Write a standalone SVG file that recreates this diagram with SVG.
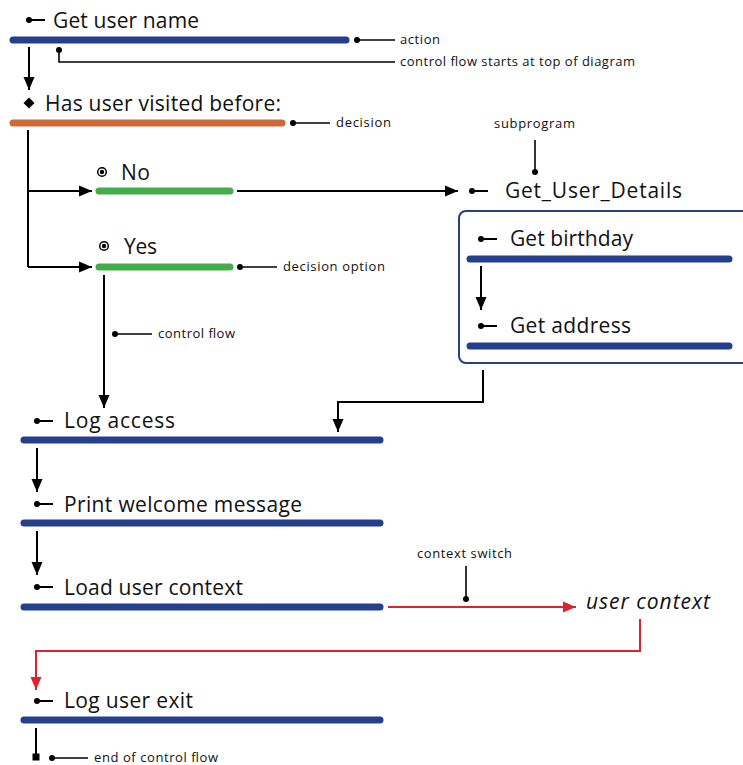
<svg xmlns="http://www.w3.org/2000/svg" width="743" height="765" viewBox="0 0 743 765">
  <defs>
    <style>
      .lbl { font-family: "Open Sans", "Liberation Sans", sans-serif; font-size: 21px; fill: #111; }
      .note { font-family: "Open Sans", "Liberation Sans", sans-serif; font-size: 13px; fill: #111; }
      .ital { font-style: italic; }
      .bar { stroke-width: 7; stroke-linecap: round; fill: none; }
      .blue { stroke: #243f8d; }
      .orange { stroke: #cd6a3a; }
      .green { stroke: #43ad4a; }
      .flow { stroke: #000; stroke-width: 2; fill: none; }
      .ctx { stroke: #d7262e; stroke-width: 2; fill: none; }
      .lead { stroke: #000; stroke-width: 1.6; fill: none; }
      .dot { fill: #000; }
    </style>
    <marker id="arrow" markerUnits="userSpaceOnUse" markerWidth="14" markerHeight="12" refX="13" refY="6" orient="auto">
      <path d="M0,0.5 L13,6 L0,11.5 z" fill="#000"/>
    </marker>
    <marker id="arrowRed" markerUnits="userSpaceOnUse" markerWidth="14" markerHeight="12" refX="13" refY="6" orient="auto">
      <path d="M0,0.5 L13,6 L0,11.5 z" fill="#d7262e"/>
    </marker>
    <!-- action bullet: dot with short stub toward the label -->
    <g id="bullet">
      <circle cx="0" cy="0" r="3" fill="#000"/>
      <line x1="0" y1="0" x2="16" y2="0" stroke="#000" stroke-width="2"/>
    </g>
    <g id="radio">
      <circle cx="0" cy="0" r="4.3" fill="none" stroke="#000" stroke-width="1.5"/>
      <circle cx="0" cy="0" r="2.2" fill="#000"/>
    </g>
  </defs>

  <rect width="743" height="765" fill="#fff"/>

  <!-- connectors -->
  <g id="connectors">
    <line class="flow" x1="29" y1="47" x2="29" y2="90" marker-end="url(#arrow)"/>
    <polyline class="flow" points="28,130 28,267"/>
    <line class="flow" x1="28" y1="191" x2="92" y2="191" marker-end="url(#arrow)"/>
    <line class="flow" x1="28" y1="267" x2="92" y2="267" marker-end="url(#arrow)"/>
    <line class="flow" x1="237" y1="191" x2="458" y2="191" marker-end="url(#arrow)"/>
    <line class="flow" x1="104" y1="275" x2="104" y2="408" marker-end="url(#arrow)"/>
    <line class="flow" x1="481" y1="266" x2="481" y2="310" marker-end="url(#arrow)"/>
    <polyline class="flow" points="483,370 483,402 338,402 338,432" marker-end="url(#arrow)"/>
    <line class="flow" x1="37" y1="448" x2="37" y2="492" marker-end="url(#arrow)"/>
    <line class="flow" x1="37" y1="531" x2="37" y2="575" marker-end="url(#arrow)"/>
    <line class="ctx" x1="388" y1="607" x2="576" y2="607" marker-end="url(#arrowRed)"/>
    <polyline class="ctx" points="640,619 640,651 36,651 36,690" marker-end="url(#arrowRed)"/>
    <line class="flow" x1="36" y1="728" x2="36" y2="756"/>
    <rect x="32.5" y="753.5" width="7" height="7" fill="#000"/>
  </g>

  <!-- annotations -->
  <g id="annotations">
    <circle class="dot" cx="357" cy="40" r="3"/>
    <line class="lead" x1="357" y1="40" x2="395" y2="40"/>
    <text class="note" x="400" y="44" textLength="40">action</text>

    <circle class="dot" cx="59" cy="50" r="3"/>
    <polyline class="lead" points="59,50 59,62 395,62"/>
    <text class="note" x="400" y="66" textLength="235">control flow starts at top of diagram</text>

    <circle class="dot" cx="293" cy="123" r="3"/>
    <line class="lead" x1="293" y1="123" x2="330" y2="123"/>
    <text class="note" x="336" y="127" textLength="55">decision</text>

    <text class="note" x="494" y="128" textLength="81">subprogram</text>
    <circle class="dot" cx="535" cy="172" r="3"/>
    <line class="lead" x1="535" y1="140" x2="535" y2="172"/>

    <circle class="dot" cx="240" cy="267" r="3"/>
    <line class="lead" x1="240" y1="267" x2="277" y2="267"/>
    <text class="note" x="283" y="271" textLength="102">decision option</text>

    <circle class="dot" cx="115" cy="334" r="3"/>
    <line class="lead" x1="115" y1="334" x2="152" y2="334"/>
    <text class="note" x="158" y="338" textLength="77">control flow</text>

    <text class="note" x="417" y="558" textLength="95">context switch</text>
    <line class="lead" x1="466" y1="566" x2="466" y2="599"/>
    <circle class="dot" cx="466" cy="599" r="3"/>

    <circle class="dot" cx="52" cy="758" r="3"/>
    <line class="lead" x1="52" y1="758" x2="88" y2="758"/>
    <text class="note" x="94" y="762" textLength="124">end of control flow</text>
  </g>

  <!-- nodes -->
  <g id="get-user-name">
    <use href="#bullet" x="29" y="20"/>
    <text class="lbl" x="53" y="28" textLength="146">Get user name</text>
    <line class="bar blue" x1="13" y1="40" x2="346" y2="40"/>
  </g>

  <g id="has-visited">
    <path d="M29,97.5 L34.5,103 L29,108.5 L23.5,103 z" fill="#000"/>
    <text class="lbl" x="45" y="111" textLength="236">Has user visited before:</text>
    <line class="bar orange" x1="13" y1="123" x2="282" y2="123"/>
  </g>

  <g id="option-no">
    <use href="#radio" x="102" y="172"/>
    <text class="lbl" x="121" y="180" textLength="29">No</text>
    <line class="bar green" x1="99" y1="191" x2="230" y2="191"/>
  </g>

  <g id="option-yes">
    <use href="#radio" x="104" y="246"/>
    <text class="lbl" x="124" y="254" textLength="33">Yes</text>
    <line class="bar green" x1="99" y1="267" x2="230" y2="267"/>
  </g>

  <g id="get-user-details">
    <use href="#bullet" x="472" y="191"/>
    <text class="lbl" x="505" y="198" textLength="177">Get_User_Details</text>
    <rect x="459" y="211" width="300" height="152" rx="7" fill="none" stroke="#243f8d" stroke-width="2"/>
  </g>

  <g id="get-birthday">
    <use href="#bullet" x="481" y="239"/>
    <text class="lbl" x="510" y="246" textLength="123">Get birthday</text>
    <line class="bar blue" x1="470" y1="259" x2="729" y2="259"/>
  </g>

  <g id="get-address">
    <use href="#bullet" x="481" y="326"/>
    <text class="lbl" x="510" y="333" textLength="121">Get address</text>
    <line class="bar blue" x1="470" y1="346" x2="729" y2="346"/>
  </g>

  <g id="log-access">
    <use href="#bullet" x="37" y="421"/>
    <text class="lbl" x="64" y="428" textLength="111">Log access</text>
    <line class="bar blue" x1="24" y1="440" x2="380" y2="440"/>
  </g>

  <g id="print-welcome">
    <use href="#bullet" x="37" y="504"/>
    <text class="lbl" x="64" y="512" textLength="238">Print welcome message</text>
    <line class="bar blue" x1="24" y1="523" x2="380" y2="523"/>
  </g>

  <g id="load-context">
    <use href="#bullet" x="37" y="587"/>
    <text class="lbl" x="64" y="595" textLength="179">Load user context</text>
    <line class="bar blue" x1="24" y1="607" x2="380" y2="607"/>
  </g>

  <g id="user-context">
    <text class="lbl ital" x="586" y="609" textLength="124">user context</text>
  </g>

  <g id="log-exit">
    <use href="#bullet" x="37" y="701"/>
    <text class="lbl" x="64" y="708" textLength="129">Log user exit</text>
    <line class="bar blue" x1="24" y1="720" x2="380" y2="720"/>
  </g>
</svg>
